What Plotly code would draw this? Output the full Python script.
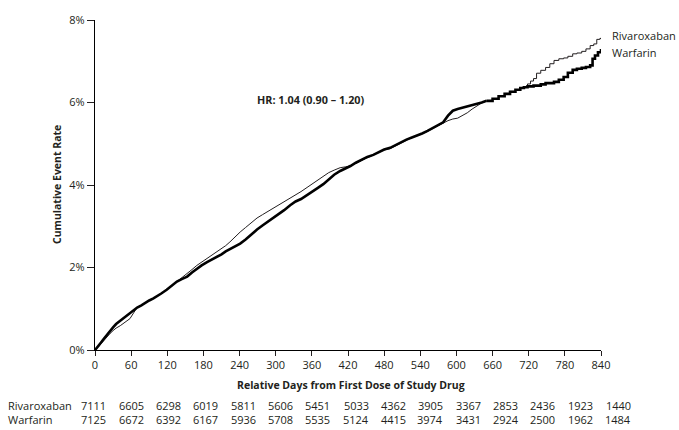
import plotly.graph_objects as go

# ---- data ----
riva_days = [0,5,10,15,20,25,30,35,42,50,58,65,70,77,83,90,97,103,110,119,127,136,144,153,161,169,177,186,194,202,210,217,224,232,241,250,259,269,278,287,296,305,314,324,333,342,352,361,370,379,388,397,407,416,424,433,443,452,462,471,480,490,499,508,517,526,534,543,552,561,570,578,586,594,602,610,618,626,634,642,650,660,670,680,689,698,706,712,718,723,728,733,740,748,755,762,770,778,785,793,800,808,815,822,828,833,838,840]
riva_rate = [0,0.06,0.15,0.24,0.32,0.40,0.47,0.53,0.59,0.67,0.76,0.92,1.03,1.08,1.14,1.20,1.25,1.30,1.37,1.46,1.55,1.66,1.76,1.85,1.95,2.05,2.13,2.21,2.29,2.37,2.46,2.53,2.62,2.74,2.86,2.97,3.08,3.20,3.28,3.36,3.43,3.51,3.58,3.67,3.76,3.84,3.94,4.03,4.13,4.22,4.30,4.36,4.42,4.44,4.46,4.53,4.60,4.67,4.74,4.80,4.85,4.88,4.95,5.03,5.10,5.15,5.19,5.24,5.30,5.37,5.43,5.50,5.56,5.60,5.62,5.68,5.75,5.84,5.92,5.99,6.04,6.09,6.16,6.22,6.27,6.31,6.35,6.38,6.45,6.52,6.58,6.71,6.78,6.85,6.94,7.02,7.06,7.08,7.12,7.18,7.20,7.24,7.30,7.38,7.42,7.53,7.55,7.57]

warf_days = [0,5,10,15,20,25,30,35,42,50,58,65,70,77,83,90,97,103,110,119,127,136,144,153,161,169,177,186,194,202,210,217,224,232,241,250,259,269,278,287,296,305,314,324,333,342,352,361,370,379,388,397,407,416,424,433,443,452,462,471,480,490,499,508,517,526,534,543,552,561,570,578,586,594,602,610,618,626,634,642,650,660,670,680,689,698,706,712,718,728,740,748,755,762,770,778,785,793,800,808,815,822,826,830,835,840]
warf_rate = [0,0.08,0.18,0.28,0.38,0.47,0.55,0.63,0.71,0.81,0.91,0.98,1.03,1.08,1.14,1.20,1.25,1.30,1.37,1.46,1.55,1.66,1.72,1.78,1.88,1.97,2.05,2.13,2.19,2.25,2.32,2.39,2.45,2.50,2.58,2.68,2.80,2.92,3.02,3.11,3.20,3.28,3.39,3.51,3.60,3.66,3.75,3.83,3.93,4.02,4.14,4.25,4.34,4.40,4.46,4.54,4.62,4.68,4.73,4.80,4.86,4.90,4.97,5.03,5.10,5.15,5.19,5.25,5.31,5.38,5.45,5.52,5.68,5.80,5.84,5.87,5.90,5.93,5.96,6.00,6.04,6.09,6.15,6.21,6.26,6.31,6.35,6.37,6.39,6.41,6.44,6.47,6.47,6.50,6.55,6.62,6.72,6.79,6.82,6.84,6.86,6.90,7.06,7.14,7.22,7.30]

x_ticks = [0,60,120,180,240,300,360,420,480,540,600,660,720,780,840]
y_ticks = [0,2,4,6,8]
y_tick_labels = ["0%","2%","4%","6%","8%"]

series_names = ["Rivaroxaban", "Warfarin"]
riva_at_risk = [7111,6605,6298,6019,5811,5606,5451,5033,4362,3905,3367,2853,2436,1923,1440]
warf_at_risk = [7125,6672,6392,6167,5936,5708,5535,5124,4415,3974,3431,2924,2500,1962,1484]

hr_text = "HR: 1.04 (0.90 – 1.20)"
x_title = "Relative Days from First Dose of Study Drug"
y_title = "Cumulative Event Rate"

FONT = "Open Sans"
TXT = "#231f20"
STEP_FROM = 650  # beyond this day the curves are drawn as visible steps

fig = go.Figure()
for days, rate, color, width, name in [
    (riva_days, riva_rate, "#231f20", 1, series_names[0]),
    (warf_days, warf_rate, "#000000", 2.6, series_names[1]),
]:
    k = days.index(STEP_FROM)
    fig.add_trace(go.Scatter(x=days[:k + 1], y=rate[:k + 1], mode="lines", line_shape="linear",
                             line=dict(color=color, width=width), name=name, showlegend=False))
    fig.add_trace(go.Scatter(x=days[k:], y=rate[k:], mode="lines", line_shape="hv",
                             line=dict(color=color, width=width), name=name, showlegend=False))

ann = []
# end-of-line labels
ann.append(dict(x=840, y=7.62, xref="x", yref="y", text=series_names[0], showarrow=False,
                xanchor="left", yanchor="middle", xshift=9, font=dict(family=FONT, size=11, color=TXT)))
ann.append(dict(x=840, y=7.22, xref="x", yref="y", text=series_names[1], showarrow=False,
                xanchor="left", yanchor="middle", xshift=9, font=dict(family=FONT, size=11, color=TXT)))
# HR
ann.append(dict(x=359, y=6.08, xref="x", yref="y", text="<b>" + hr_text + "</b>", showarrow=False,
                xanchor="center", yanchor="middle", font=dict(family=FONT, size=10.8, color=TXT)))
# axis titles
ann.append(dict(x=0, y=0.5, xref="paper", yref="paper", text="<b>" + y_title + "</b>", showarrow=False,
                textangle=-90, xanchor="center", yanchor="middle", xshift=-38,
                font=dict(family=FONT, size=10.5, color=TXT)))
ann.append(dict(x=0.5, y=0, xref="paper", yref="paper", text="<b>" + x_title + "</b>", showarrow=False,
                xanchor="center", yanchor="middle", yshift=-35, xshift=3,
                font=dict(family=FONT, size=10.5, color=TXT)))
# number-at-risk table
for row, (name, vals) in enumerate([(series_names[0], riva_at_risk), (series_names[1], warf_at_risk)]):
    ann.append(dict(x=0, y=0, xref="paper", yref="paper", text=name, showarrow=False,
                    xanchor="left", yanchor="middle", xshift=-89, yshift=-55 - 14 * row,
                    font=dict(family=FONT, size=11, color=TXT)))
    for i, (d, v) in enumerate(zip(x_ticks, vals)):
        ann.append(dict(x=d, y=0, xref="x", yref="paper", text=str(v), showarrow=False,
                        xanchor="center", yanchor="middle", xshift=round(i * 1.33 - 1.5),
                        yshift=-55 - 14 * row, font=dict(family=FONT, size=11, color=TXT)))

fig.update_layout(
    width=679, height=430,
    margin=dict(l=95, r=78, t=12, b=80),
    paper_bgcolor="white", plot_bgcolor="white",
    annotations=ann,
    font=dict(family=FONT, size=11, color=TXT),
)
fig.update_xaxes(range=[0, 840], tickvals=x_ticks, ticks="outside", ticklen=5, tickwidth=1,
                 tickcolor="#231f20", showline=True, linecolor="#000000", linewidth=1.3,
                 showgrid=False, zeroline=False, tickfont=dict(family=FONT, size=11, color=TXT))
fig.update_yaxes(range=[0, 8], tickvals=y_ticks, ticktext=y_tick_labels, ticks="outside", ticklen=7,
                 tickwidth=1, tickcolor="#231f20", showline=True, linecolor="#000000", linewidth=1.3,
                 showgrid=False, zeroline=False, tickfont=dict(family=FONT, size=11, color=TXT))

fig.write_html("out.html", config={"displayModeBar": False},
               post_script="document.body.style.margin='0';document.body.style.padding='0';")
